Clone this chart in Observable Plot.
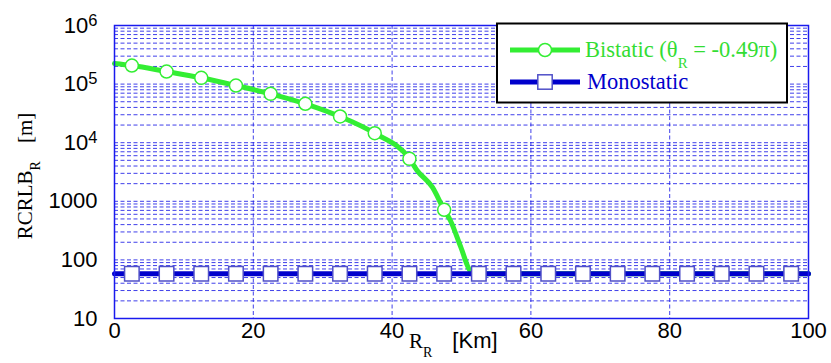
<!DOCTYPE html>
<html>
<head>
<meta charset="utf-8">
<script src="https://cdn.jsdelivr.net/npm/d3@7"></script>
<script src="https://cdn.jsdelivr.net/npm/@observablehq/plot@0.6"></script>
<style>
  html, body { margin: 0; padding: 0; background: #fff; }
  #chart svg { display: block; }
</style>
</head>
<body>
<div id="chart"></div>
<script>
// ---- data ----
const xTicks = [0, 20, 40, 60, 80, 100];
const yTicks = [10, 100, 1000, 1e4, 1e5, 1e6];
const yTickLabels = ["10", "100", "1000", "10^4", "10^5", "10^6"];

// Bistatic (green) curve, R_R in Km vs RCRLB in m
const bistaticX = [0, 2.5, 7.5, 12.5, 17.5, 22.5, 27.5, 32.5, 37.5, 42.5, 43.6, 45.8, 47.5, 48.4, 49.9, 51.4, 52.5, 57.5, 62.5, 67.5, 72.5, 77.5, 82.5, 87.5, 92.5, 97.5, 100];
const bistaticY = [225000, 207500, 164000, 128000, 94600, 68200, 46100, 28000, 14500, 5310, 3360, 1740, 716, 470, 165, 62, 58, 58, 58, 58, 58, 58, 58, 58, 58, 58, 58];
const bistaticMarkerX = [2.5, 7.5, 12.5, 17.5, 22.5, 27.5, 32.5, 37.5, 42.5, 47.5, 52.5];

// Monostatic (blue) constant
const monoX = [0, 2.5, 7.5, 12.5, 17.5, 22.5, 27.5, 32.5, 37.5, 42.5, 47.5, 52.5, 57.5, 62.5, 67.5, 72.5, 77.5, 82.5, 87.5, 92.5, 97.5, 100];
const monoY = [58, 58, 58, 58, 58, 58, 58, 58, 58, 58, 58, 58, 58, 58, 58, 58, 58, 58, 58, 58, 58, 58];
const monoMarkerX = [2.5, 7.5, 12.5, 17.5, 22.5, 27.5, 32.5, 37.5, 42.5, 47.5, 52.5, 57.5, 62.5, 67.5, 72.5, 77.5, 82.5, 87.5, 92.5, 97.5];

const legendLabels = ["Bistatic", "Monostatic"];

// ---- build tables ----
const bistatic = bistaticX.map((x, i) => ({x, y: bistaticY[i]}));
const bistaticMarkers = bistatic.filter(d => bistaticMarkerX.includes(d.x));
const mono = monoX.map((x, i) => ({x, y: monoY[i]}));
const monoMarkers = mono.filter(d => monoMarkerX.includes(d.x));

// log grid lines (1..9 x each decade)
const yGrid = [];
for (let e = 1; e < 6; e++) for (let m = 1; m < 10; m++) yGrid.push(m * Math.pow(10, e));
yGrid.push(1e6);
const xGrid = xTicks.filter(d => d > 0 && d < 100);

const GREEN = "#33ee33";
const BLUE = "#0000cc";
const GRID = "#1f1fe6";
const SERIF = "'Liberation Serif', 'Times New Roman', serif";
const SANS = "'Liberation Sans', Arial, sans-serif";

const plot = Plot.plot({
  width: 831,
  height: 363,
  marginLeft: 114,
  marginRight: 23,
  marginTop: 25,
  marginBottom: 45,
  style: {fontFamily: SANS, fontSize: "22px", color: "#000", background: "#fff"},
  x: {domain: [0, 100]},
  y: {type: "log", domain: [10, 1e6]},
  marks: [
    Plot.ruleY(yGrid, {stroke: GRID, strokeOpacity: 0.85, strokeWidth: 1, strokeDasharray: "4,2.5"}),
    Plot.ruleX(xGrid, {stroke: GRID, strokeOpacity: 0.85, strokeWidth: 1, strokeDasharray: "4,2.5"}),
    Plot.line(bistatic, {x: "x", y: "y", stroke: GREEN, strokeWidth: 5, curve: "monotone-x"}),
    Plot.dot(bistaticMarkers, {x: "x", y: "y", r: 6.5, fill: "#fff", stroke: GREEN, strokeWidth: 1.5}),
    Plot.line(mono, {x: "x", y: "y", stroke: BLUE, strokeWidth: 5}),
    Plot.dot(monoMarkers, {x: "x", y: "y", symbol: "square", r: 8.2, fill: "#fff", stroke: "#5050c8", strokeWidth: 1.5}),
    Plot.frame({stroke: "#1a1aee", strokeWidth: 1.5}),
    Plot.axisX(xTicks, {tickSize: 0, tickPadding: 3.5, fontSize: 22, label: null}),
    Plot.axisY(yTicks, {tickSize: 0, tickPadding: 17, fontSize: 22, label: null,
      tickFormat: d => yTickLabels[yTicks.indexOf(d)]})
  ]
});

document.getElementById("chart").appendChild(plot);

const svg = d3.select(plot);

// superscripts for 10^N tick labels
svg.selectAll("text").each(function () {
  const t = this.textContent;
  if (t.includes("^")) {
    const [base, exp] = t.split("^");
    const sel = d3.select(this);
    sel.text(null);
    sel.append("tspan").text(base);
    sel.append("tspan").attr("dy", "-0.42em").style("font-size", "16.5px").text(exp);
  }
});

function txt(parent, x, y, anchor) {
  return parent.append("text").attr("x", x).attr("y", y)
    .style("text-anchor", anchor).attr("text-anchor", anchor);
}

// Y axis label: RCRLB_R   [m]
const yl = svg.append("text")
  .attr("transform", "translate(32,176) rotate(-90)")
  .style("text-anchor", "middle")
  .style("font-family", SERIF)
  .style("font-size", "21px")
  .attr("fill", "#000");
yl.append("tspan").text("RCRLB");
yl.append("tspan").attr("dy", 8).style("font-size", "14px").text("R");
yl.append("tspan").attr("dy", -8).attr("dx", 18).text("[m]");

// X axis label: R_R   [Km]
const xl = txt(svg, 409, 348, "start").attr("fill", "#000");
xl.append("tspan").style("font-family", SERIF).style("font-size", "21px").text("R");
xl.append("tspan").style("font-family", SERIF).style("font-size", "14px").attr("dy", 9).text("R");
xl.append("tspan").style("font-family", SANS).style("font-size", "22px").attr("dy", -9).attr("dx", 20).text("[Km]");

// Legend
const lg = svg.append("g");
lg.append("rect").attr("x", 497).attr("y", 23.5).attr("width", 290).attr("height", 79)
  .attr("fill", "#fff").attr("stroke", "#000").attr("stroke-width", 2);
lg.append("line").attr("x1", 510).attr("x2", 580).attr("y1", 50).attr("y2", 50)
  .attr("stroke", GREEN).attr("stroke-width", 5);
lg.append("circle").attr("cx", 545).attr("cy", 50).attr("r", 6.5)
  .attr("fill", "#fff").attr("stroke", GREEN).attr("stroke-width", 1.5);
lg.append("line").attr("x1", 510).attr("x2", 580).attr("y1", 82).attr("y2", 82)
  .attr("stroke", BLUE).attr("stroke-width", 5);
lg.append("rect").attr("x", 545 - 7.2).attr("y", 82 - 7.2).attr("width", 14.4).attr("height", 14.4)
  .attr("fill", "#fff").attr("stroke", "#5050c8").attr("stroke-width", 1.5);

const t1 = txt(lg, 585, 57, "start")
  .style("font-family", SERIF).style("font-size", "22.5px").attr("fill", "#33dd33");
t1.append("tspan").text(legendLabels[0] + " (θ");
t1.append("tspan").attr("dy", 11).style("font-size", "15px").text("R");
t1.append("tspan").attr("dy", -11).text(" = -0.49π)");

txt(lg, 587, 89, "start")
  .style("font-family", SERIF).style("font-size", "22.5px")
  .attr("fill", BLUE).text(legendLabels[1]);
</script>
</body>
</html>
